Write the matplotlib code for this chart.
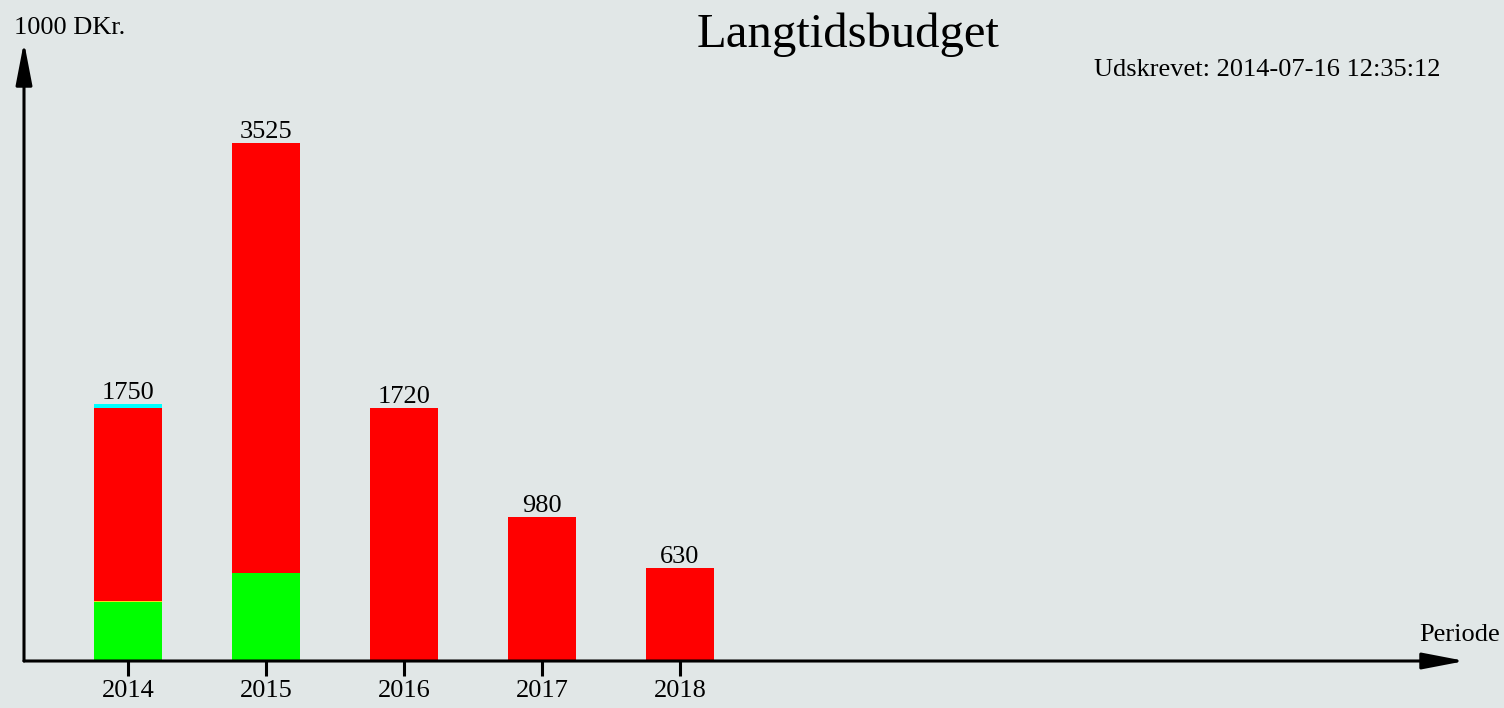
import matplotlib.pyplot as plt
import numpy as np

plt.rcParams['font.family'] = ['Liberation Serif', 'DejaVu Serif']

years = ['2014', '2015', '2016', '2017', '2018']
green = [400, 600, 0, 0, 0]
yellow = [10, 0, 0, 0, 0]
red = [1315, 2925, 1720, 980, 630]
cyan = [25, 0, 0, 0, 0]
totals = [1750, 3525, 1720, 980, 630]

bg = '#e1e7e7'
W, H = 1504, 708
fig = plt.figure(figsize=(W / 100, H / 100), dpi=100, facecolor=bg)

# axes placed in pixel terms: origin at (24, 661), y-arrow tip at 42, x-arrow tip at 1465
x0, y0, x1, y1 = 24, 661, 1465, 42
ax = fig.add_axes([x0 / W, (H - y0) / H, (x1 - x0) / W, (y0 - y1) / H])
ax.set_facecolor(bg)
step = 138.0
xl = (x0 - 128) / step
ax.set_xlim(xl, xl + (x1 - x0) / step)
ax.set_ylim(0, 3525 * (y0 - y1) / (661 - 143))

x = np.arange(len(years))
bw = 68 / step
bottom = np.zeros(len(years))
for vals, col in [(green, '#00ff00'), (yellow, '#ffd21e'), (red, '#ff0000'), (cyan, '#00ffff')]:
    ax.bar(x, vals, bw, bottom=bottom, color=col, linewidth=0)
    bottom += np.array(vals)

for xi, t in zip(x, totals):
    ax.text(xi, t, str(t), ha='center', va='bottom', fontsize=19)

for s in ax.spines.values():
    s.set_visible(False)
ax.set_xticks(x)
ax.set_xticklabels(years, fontsize=19)
ax.set_yticks([])
ax.tick_params(axis='x', length=11, width=2.2, pad=3, color='black')

# axis lines with arrowheads
ax.annotate('', xy=(0, 1), xytext=(0, 0), xycoords='axes fraction',
            arrowprops=dict(arrowstyle='-|>,head_length=2.6,head_width=0.5', lw=2.2,
                            color='black', shrinkA=0, shrinkB=0), clip_on=False)
ax.annotate('', xy=(1, 0), xytext=(0, 0), xycoords='axes fraction',
            arrowprops=dict(arrowstyle='-|>,head_length=2.6,head_width=0.5', lw=2.2,
                            color='black', shrinkA=0, shrinkB=0), clip_on=False)

fig.text(14 / W, 1 - 28 / H, '1000 DKr.', fontsize=19, ha='left', va='center')
fig.text(1500 / W, 1 - 635 / H, 'Periode', fontsize=19, ha='right', va='center')
fig.text(848 / W, 1 - 35 / H, 'Langtidsbudget', fontsize=35, ha='center', va='center')
fig.text(1440 / W, 1 - 70 / H, 'Udskrevet: 2014-07-16 12:35:12', fontsize=19, ha='right', va='center')

fig.savefig('out.png', dpi=100, facecolor=bg)
